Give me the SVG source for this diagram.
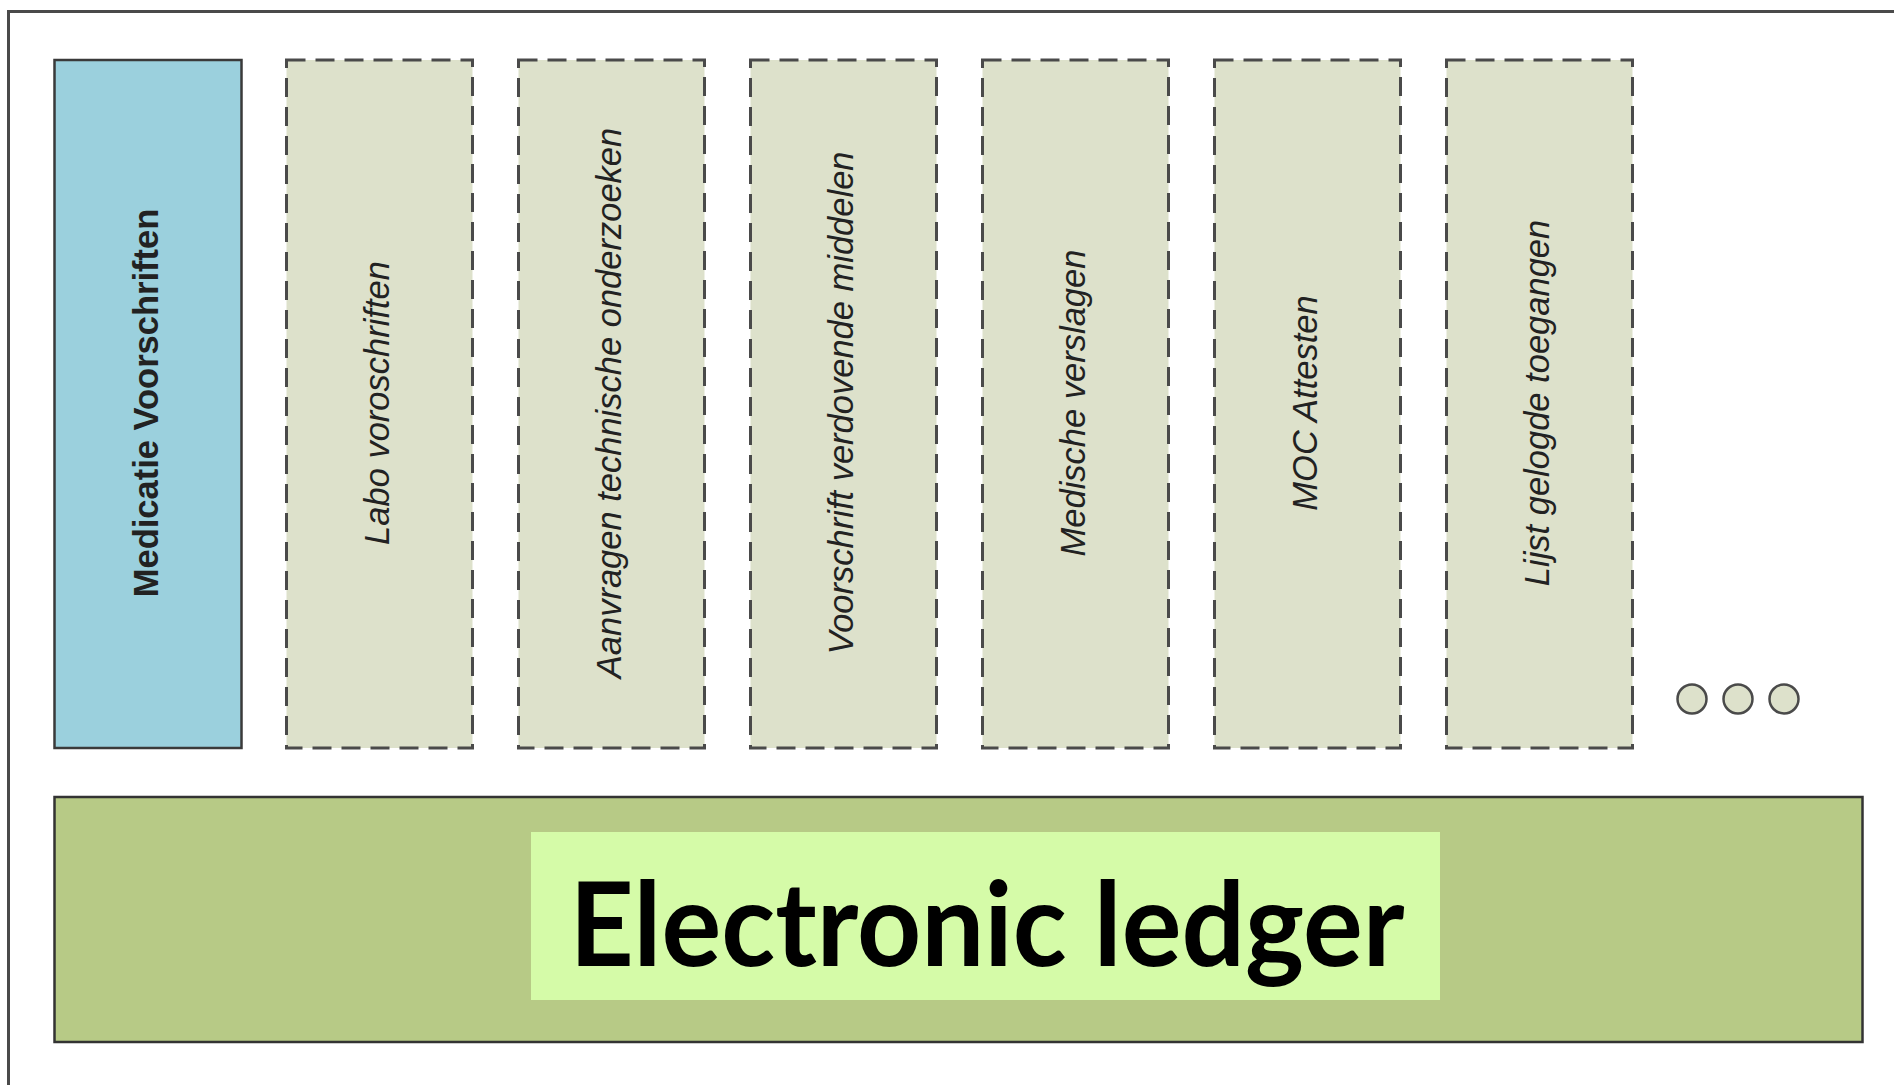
<svg xmlns="http://www.w3.org/2000/svg" width="1894" height="1085" viewBox="0 0 1894 1085">
  <style>
    .frame { fill: #ffffff; stroke: #4a4a4a; stroke-width: 3; }
    .module { fill: #dde1cb; stroke: #4a4a4a; stroke-width: 3; stroke-dasharray: 19 10; }
    .active { fill: #9bd0dd; stroke: #3a3a3a; stroke-width: 2.5; }
    .ledger { fill: #b7ca86; stroke: #333333; stroke-width: 2.5; }
    .ledger-label { fill: #d5fba8; }
    .dot { fill: #dde1cb; stroke: #4a4a4a; stroke-width: 2.5; }
    .vlabel { font-family: "Liberation Sans", Arial, sans-serif; font-size: 34.5px; fill: #222222; text-anchor: middle; }
    .italic { font-style: italic; }
    .bold { font-weight: bold; }
    .title { font-family: Lato, "Liberation Sans", sans-serif; font-weight: 700; font-size: 116px; fill: #000000; text-anchor: middle; }
  </style>

  <rect width="1894" height="1085" fill="#ffffff"/>
  <!-- outer frame, running off the right and bottom edges -->
  <rect class="frame" x="8.5" y="11.5" width="1900" height="1090"/>

  <g id="medicatie-voorschriften">
    <rect class="active" x="54.5" y="60" width="187" height="688"/>
    <text class="vlabel bold" transform="translate(158 403) rotate(-90)">Medicatie Voorschriften</text>
  </g>

  <g id="labo-voroschriften">
    <rect class="module" x="286.5" y="60" width="186" height="688"/>
    <text class="vlabel italic" transform="translate(389 403) rotate(-90)">Labo voroschriften</text>
  </g>

  <g id="aanvragen-technische-onderzoeken">
    <rect class="module" x="518.5" y="60" width="186" height="688"/>
    <text class="vlabel italic" transform="translate(621 403) rotate(-90)">Aanvragen technische onderzoeken</text>
  </g>

  <g id="voorschrift-verdovende-middelen">
    <rect class="module" x="750.5" y="60" width="186" height="688"/>
    <text class="vlabel italic" transform="translate(853 403) rotate(-90)">Voorschrift verdovende middelen</text>
  </g>

  <g id="medische-verslagen">
    <rect class="module" x="982.5" y="60" width="186" height="688"/>
    <text class="vlabel italic" transform="translate(1085 403) rotate(-90)">Medische verslagen</text>
  </g>

  <g id="moc-attesten">
    <rect class="module" x="1214.5" y="60" width="186" height="688"/>
    <text class="vlabel italic" transform="translate(1317 403) rotate(-90)">MOC Attesten</text>
  </g>

  <g id="lijst-gelogde-toegangen">
    <rect class="module" x="1446.5" y="60" width="186" height="688"/>
    <text class="vlabel italic" transform="translate(1549 403) rotate(-90)">Lijst gelogde toegangen</text>
  </g>

  <g id="more">
    <circle class="dot" cx="1692" cy="699" r="14.5"/>
    <circle class="dot" cx="1738" cy="699" r="14.5"/>
    <circle class="dot" cx="1784" cy="699" r="14.5"/>
  </g>

  <g id="electronic-ledger">
    <rect class="ledger" x="54.5" y="797" width="1808" height="245"/>
    <rect class="ledger-label" x="531" y="832" width="909" height="168"/>
    <text class="title" x="987" y="966" textLength="835" lengthAdjust="spacingAndGlyphs">Electronic ledger</text>
  </g>

  <g id="connectors"/>
</svg>
